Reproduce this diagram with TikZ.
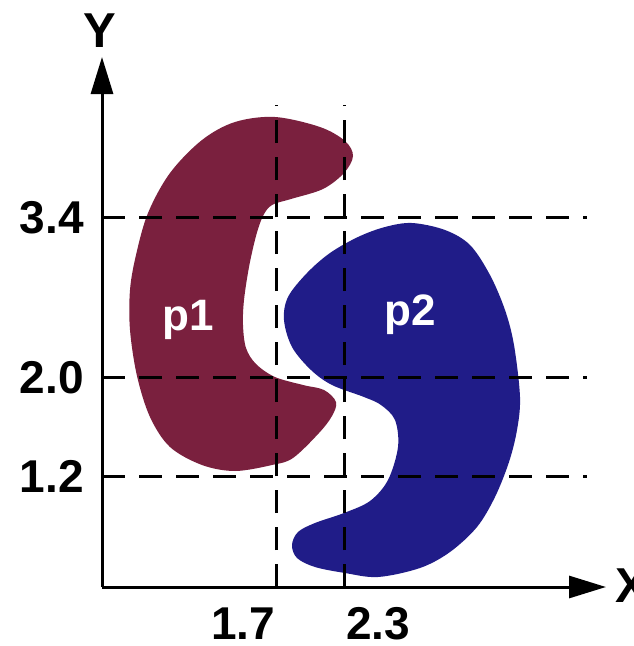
\documentclass[tikz,border=0pt]{standalone}
\usepackage{fontspec}
\setmainfont{Liberation Sans}
\usetikzlibrary{arrows.meta}
\definecolor{pone}{RGB}{122,32,62}
\definecolor{ptwo}{RGB}{32,28,136}
\tikzset{
  lbl/.style={font=\bfseries\fontsize{46}{46}\selectfont, inner sep=0pt},
  axlbl/.style={font=\bfseries\fontsize{49}{49}\selectfont, inner sep=0pt},
  plbl/.style={font=\bfseries\fontsize{44}{44}\selectfont, inner sep=0pt, text=white},
  guide/.style={line width=3pt, dash pattern=on 23pt off 14pt},
  axis/.style={line width=3pt, -{Triangle[length=37pt,width=22pt]}},
}
\begin{document}
\begin{tikzpicture}[x=1pt,y=-1pt]
\useasboundingbox (0,0) rectangle (634,646);
% shapes
\fill[pone] plot[smooth cycle, tension=0.55] coordinates {
(275,117) (320,127) (345,141) (353,156) (344,173) (323,189) (291,199) (272,205)
(263,216) (256,236) (249,267) (244,300) (243,325) (246,348) (256,364) (275,377)
(303,385) (324,390) (336,402) (332,416) (319,433) (293,458) (272,465) (235,471)
(202,465) (170,447) (150,417) (137,376) (130,330) (130,290) (136,255) (148,213)
(170,173) (202,140) (235,122)};
\fill[ptwo] plot[smooth cycle, tension=0.55] coordinates {
(412,223) (445,230) (470,245) (490,275) (505,310) (514,345) (520,397) (517,430)
(509,462) (495,497) (477,527) (450,552) (420,568) (378,577) (345,573) (315,567)
(297,558) (292,545) (298,532) (315,523) (344,513) (370,501) (388,480) (398,447)
(395,420) (381,405) (364,397) (332,385) (311,370) (292,347) (284,320) (288,297)
(307,273) (330,253) (358,237) (385,227)};
\node[plbl, anchor=base] (p1) at (188,330) {p1};
\node[plbl, anchor=base] (p2) at (410,325) {p2};
% guide coordinates
\coordinate (o) at (102,587);
\coordinate (h34a) at (102,217); \coordinate (h34b) at (587,217);
\coordinate (h20a) at (102,377); \coordinate (h20b) at (587,377);
\coordinate (h12a) at (102,476); \coordinate (h12b) at (587,476);
\coordinate (v17a) at (276,105); \coordinate (v17b) at (276,587);
\coordinate (v23a) at (344,105); \coordinate (v23b) at (344,587);
\draw[guide] (h34a) -- (h34b);
\draw[guide] (h20a) -- (h20b);
\draw[guide] (h12a) -- (h12b);
\draw[guide] (v17b) -- (v17a);
\draw[guide] (v23b) -- (v23a);
% axes
\coordinate (ytip) at (102,57);
\coordinate (xtip) at (606,587);
\draw[axis] (o) -- (ytip);
\draw[axis] (o) -- (xtip);
\node[axlbl, anchor=base] (Y) at (100,47) {Y};
\node[axlbl, anchor=base west] (X) at (615,602) {X};
% tick labels
\node[lbl, anchor=base east] (l34) at (84,233) {3.4};
\node[lbl, anchor=base east] (l20) at (84,393) {2.0};
\node[lbl, anchor=base east] (l12) at (84,492) {1.2};
\node[lbl, anchor=base] (l17) at (243,639) {1.7};
\node[lbl, anchor=base] (l23) at (378,639) {2.3};
\end{tikzpicture}
\end{document}
